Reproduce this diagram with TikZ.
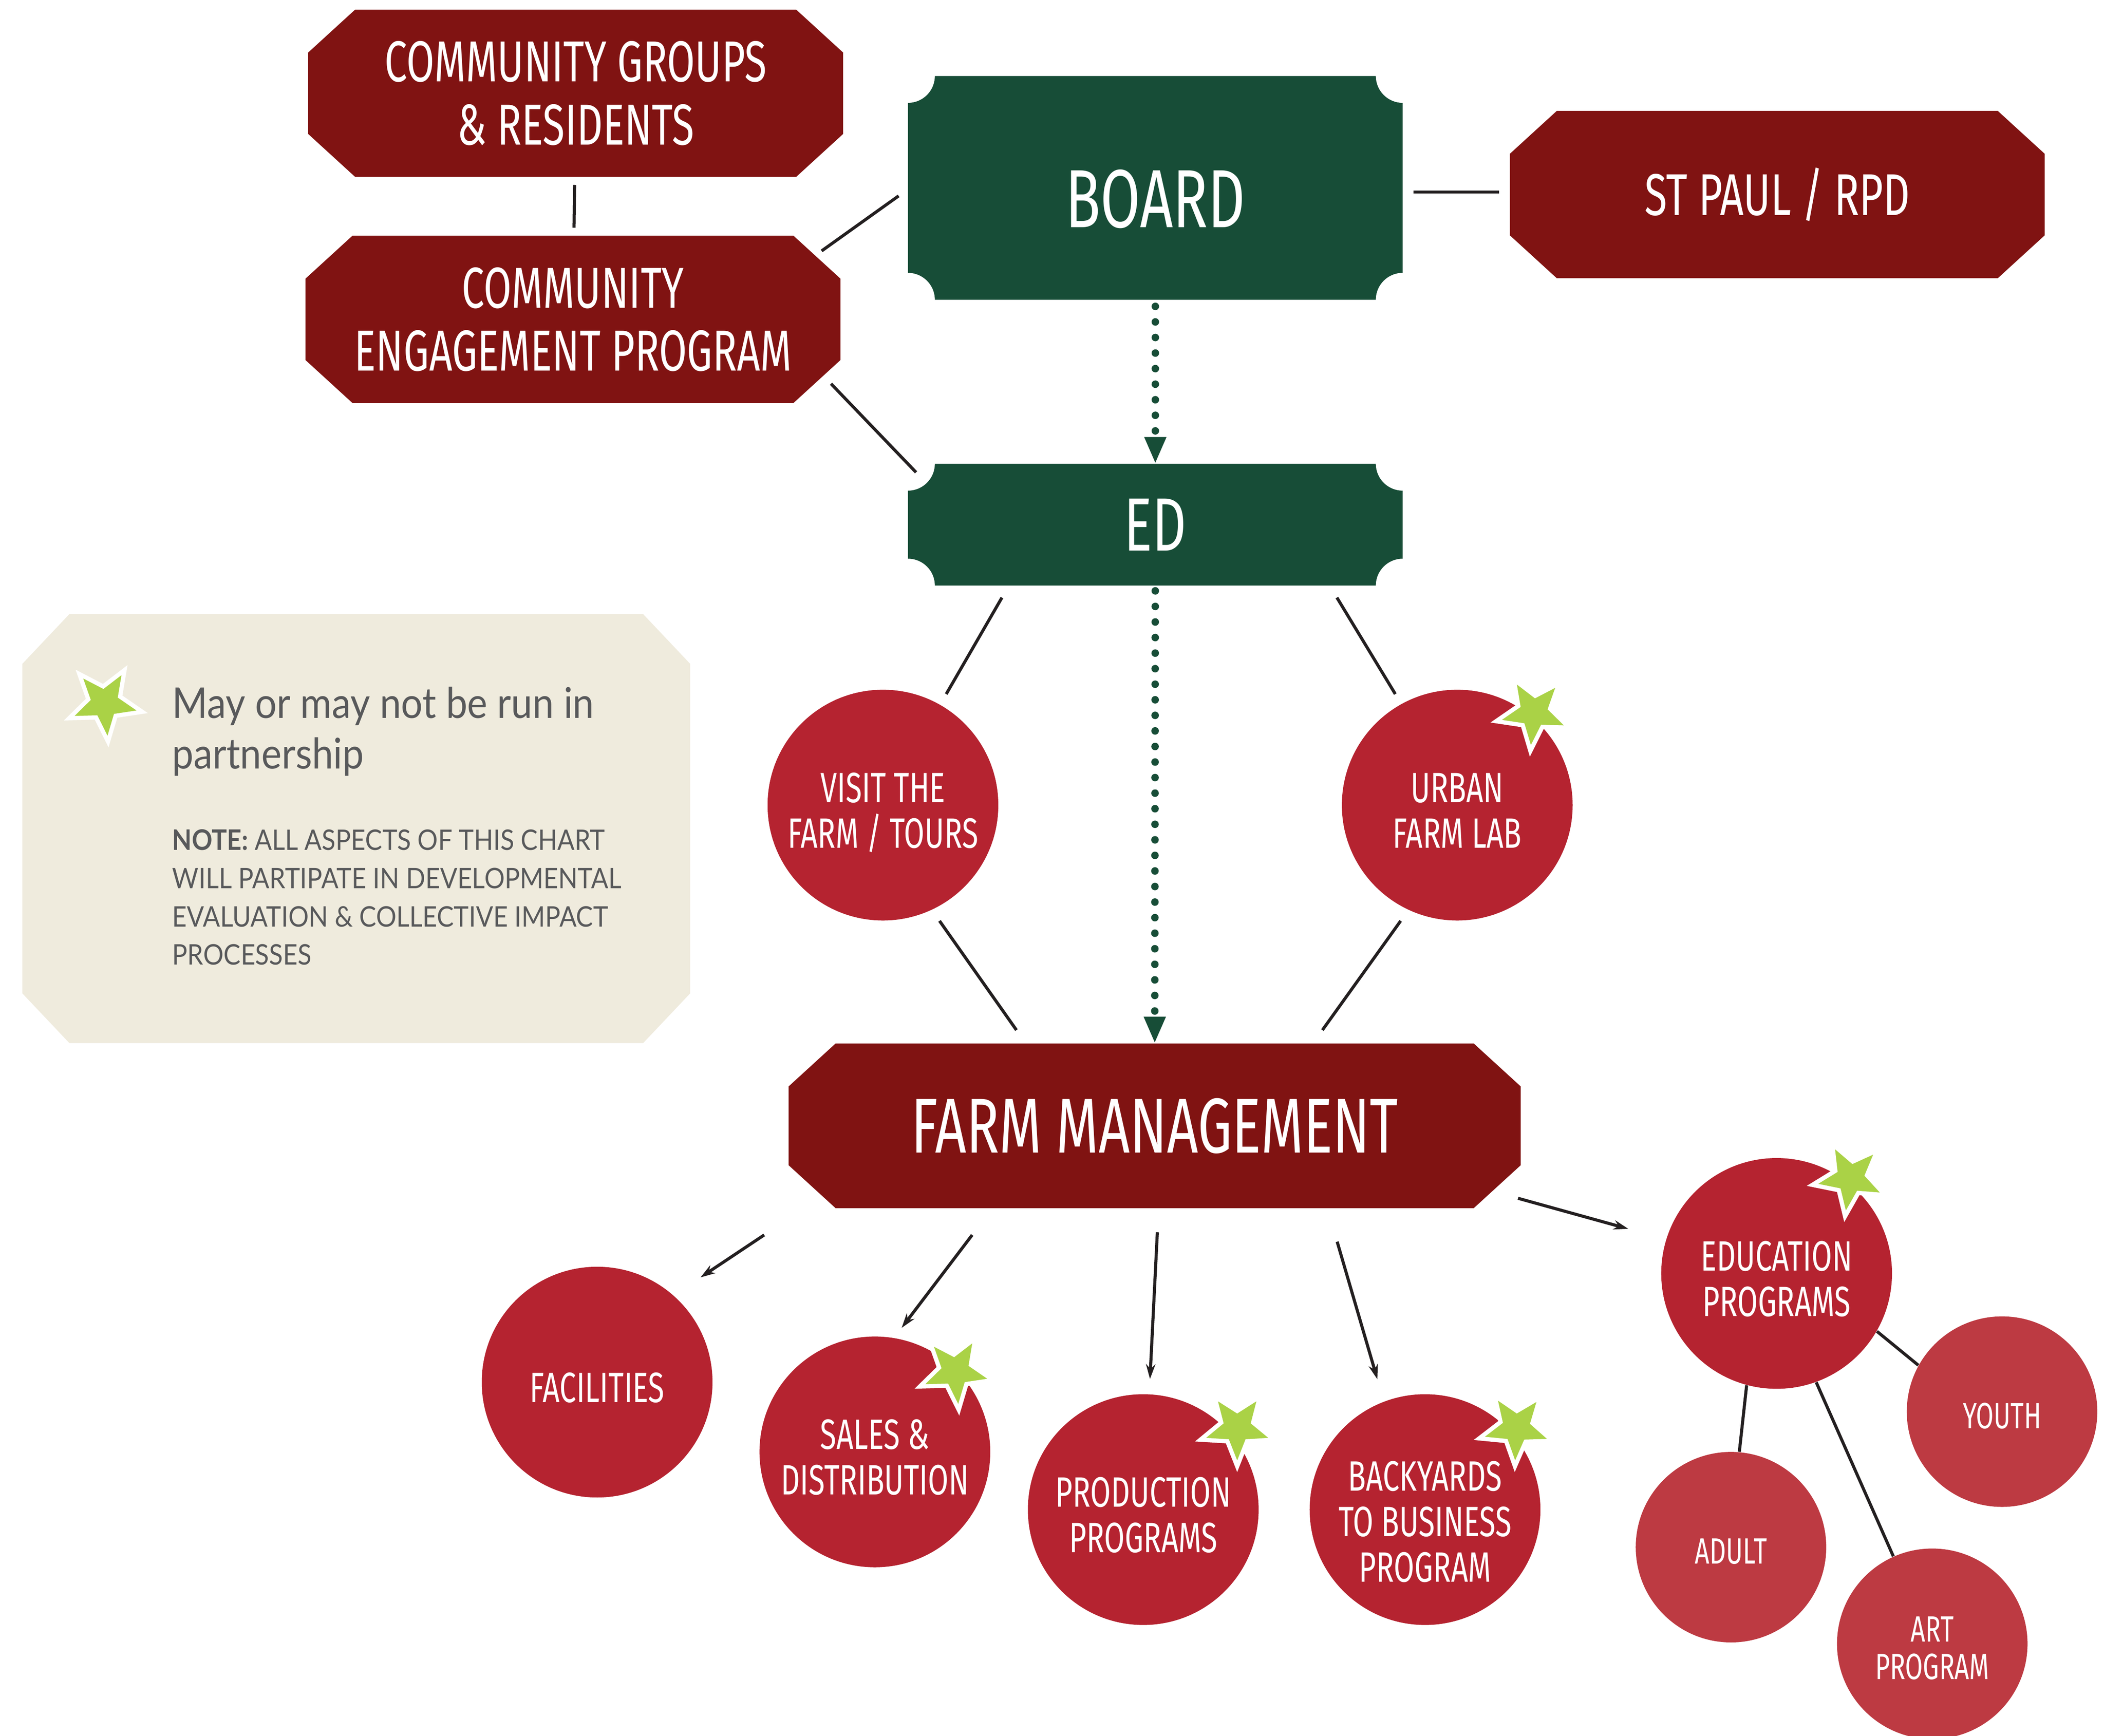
\documentclass[tikz,border=0pt]{standalone}
\usepackage{fontspec}
\usepackage{tikz}
\usetikzlibrary{arrows.meta, positioning, shapes.geometric, backgrounds}
\newfontfamily\hfont[FakeStretch=0.70]{Fira Sans}
\newfontfamily\lfont[FakeStretch=0.9]{Lato}
\definecolor{octred}{RGB}{128,19,18}
\definecolor{circred}{RGB}{181,35,48}
\definecolor{subred}{RGB}{189,58,66}
\definecolor{boardgreen}{RGB}{23,77,55}
\definecolor{legbg}{RGB}{239,235,221}
\definecolor{stargreen}{RGB}{170,210,70}
\definecolor{linegray}{RGB}{35,31,32}
\definecolor{textgray}{RGB}{88,89,91}

\begin{document}
\begin{tikzpicture}[x=0.02cm, y=-0.02cm,
  octa/.style={rectangle, minimum width=7.96cm, minimum height=2.48cm, text=white, align=center, font=\hfont\fontsize{24.5}{26.7}\selectfont},
  notch/.style={rectangle, minimum width=7.36cm, text=white, font=\hfont\fontsize{35}{40}\selectfont},
  circ/.style={circle, fill=circred, minimum size=3.44cm, inner sep=0pt, text height=1.28cm, text depth=0pt, text=white, align=center, font=\hfont\fontsize{18}{19.3}\selectfont},
  subcirc/.style={circle, fill=subred, minimum size=2.84cm, inner sep=0pt, text height=0.5cm, text depth=0pt, text=white, align=center, font=\hfont\fontsize{15.5}{15.9}\selectfont},
  partner/.style={star, star points=5, star point ratio=2.3, minimum size=1.15cm, inner sep=0pt, fill=stargreen, draw=white, line width=1.8pt},
  link/.style={draw=linegray, line width=1.3pt},
  feed/.style={link, -{Stealth[length=0.22cm, width=0.14cm]}},
  dotlink/.style={draw=boardgreen, line width=3.2pt, line cap=round, dash pattern=on 0pt off 6.6pt, -{Triangle[length=0.4cm, width=0.3cm]}}]
  \useasboundingbox (0,0) rectangle (1568,1293.7);

  % top boxes
  \node[octa] (cgr) at (429,69.5) {COMMUNITY GROUPS\\\& RESIDENTS};
  \node[octa] (cep) at (427,238) {COMMUNITY\\ENGAGEMENT PROGRAM};
  \node[octa, font=\hfont\fontsize{25}{30}\selectfont] (stpaul) at (1324.5,145) {ST PAUL / RPD};
  \node[notch, minimum height=3.32cm, text height=1.18cm, text depth=0pt] (board) at (861,140) {BOARD};
  \node[notch, minimum height=1.8cm, font=\hfont\fontsize{32}{36}\selectfont] (ed) at (861,391) {ED};
  \node[octa, minimum width=10.9cm, minimum height=2.44cm, font=\hfont\fontsize{33}{36}\selectfont] (farm) at (860.5,839) {FARM MANAGEMENT};

  % legend
  \node[minimum width=9.94cm, minimum height=6.38cm] (legend) at (265.5,617.5) {};
  \node[partner, shape border rotate=185] (legstar) at (78,524) {};
  \node[anchor=base west, align=left, inner sep=0pt, text=textgray, font=\lfont\fontsize{18}{21.5}\selectfont] (legtitle) at (128,573) {May or may not be run in\\partnership};
  \node[anchor=base west, align=left, inner sep=0pt, text=textgray, font=\lfont\fontsize{12}{16.2}\selectfont] (legnote) at (128,719) {\textbf{NOTE:} ALL ASPECTS OF THIS CHART\\WILL PARTIPATE IN DEVELOPMENTAL\\EVALUATION \& COLLECTIVE IMPACT\\PROCESSES};

  % programs
  \node[circ] (visit) at (658,600) {VISIT THE\\FARM / TOURS};
  \node[circ] (urban) at (1086,600) {URBAN\\FARM LAB};
  \node[circ, text height=0.6cm] (facil) at (445,1030) {FACILITIES};
  \node[circ] (sales) at (652,1082) {SALES \&\\DISTRIBUTION};
  \node[circ] (prod) at (852,1125) {PRODUCTION\\PROGRAMS};
  \node[circ, text height=2.16cm] (backyard) at (1062,1125) {BACKYARDS\\TO BUSINESS\\PROGRAM};
  \node[circ] (edu) at (1324,949) {EDUCATION\\PROGRAMS};
  \node[subcirc] (youth) at (1492,1052) {YOUTH};
  \node[subcirc] (adult) at (1290,1153) {ADULT};
  \node[subcirc, text height=1.06cm] (art) at (1440,1225) {ART\\PROGRAM};

  \foreach \x/\y/\r [count=\i] in {1143/531/175, 712/1022/185, 922/1064/180, 1130/1064/178, 1379/878/172}
    \node[partner, shape border rotate=\r] (star\i) at (\x,\y) {};

  \begin{scope}[on background layer]
    \foreach \n in {cgr,cep,stpaul,farm}
      \fill[octred] ([xshift=0.7cm]\n.north west) -- ([xshift=-0.7cm]\n.north east) -- ([yshift=-0.64cm]\n.north east)
        -- ([yshift=0.64cm]\n.south east) -- ([xshift=-0.7cm]\n.south east) -- ([xshift=0.7cm]\n.south west)
        -- ([yshift=0.64cm]\n.south west) -- ([yshift=-0.64cm]\n.north west) -- cycle;
    \fill[legbg] ([xshift=0.7cm]legend.north west) -- ([xshift=-0.7cm]legend.north east) -- ([yshift=-0.74cm]legend.north east)
      -- ([yshift=0.74cm]legend.south east) -- ([xshift=-0.7cm]legend.south east) -- ([xshift=0.7cm]legend.south west)
      -- ([yshift=0.74cm]legend.south west) -- ([yshift=-0.74cm]legend.north west) -- cycle;
    \foreach \n in {board,ed}
      \fill[boardgreen] ([xshift=0.4cm]\n.north west) -- ([xshift=-0.4cm]\n.north east) arc[start angle=180, end angle=270, radius=0.4cm]
        -- ([yshift=0.4cm]\n.south east) arc[start angle=90, end angle=180, radius=0.4cm]
        -- ([xshift=0.4cm]\n.south west) arc[start angle=0, end angle=90, radius=0.4cm]
        -- ([yshift=-0.4cm]\n.north west) arc[start angle=270, end angle=360, radius=0.4cm] -- cycle;
  \end{scope}

  % connectors
  \draw[link, shorten <=0.12cm, shorten >=0.12cm] (cgr) -- (cep);
  \draw[link] ([shift={(-14,-51)}]cep.east) -- ([shift={(-7,6)}]board.west);
  \draw[link] ([shift={(-7,48)}]cep.east) -- ([shift={(6,-39)}]ed.west);
  \draw[link] ([shift={(8,3)}]board.east) -- ([shift={(-8,-2)}]stpaul.west);
  \draw[dotlink, shorten <=0.1cm] (board) -- (ed);
  \draw[dotlink, shorten <=0.08cm] (ed) -- (farm);
  \draw[link] ([shift={(70,9)}]ed.south west) -- ([shift={(4,-8)}]visit.60);
  \draw[link] ([shift={(-49,9)}]ed.south east) -- ([shift={(-3,-8)}]urban.120);
  \draw[link] ([shift={(-1,11.5)}]visit.-60) -- ([shift={(-103,-10)}]farm.north);
  \draw[link] ([shift={(1,11.5)}]urban.-120) -- ([shift={(125,-10)}]farm.north);
  \draw[feed] ([shift={(-291,20)}]farm.south) -- ([shift={(16,-17)}]facil.45);
  \draw[feed] ([shift={(-136,20)}]farm.south) -- ([shift={(2,-8)}]sales.78);
  \draw[feed] ([shift={(2,18)}]farm.south) -- ([shift={(5,-11)}]prod.north);
  \draw[feed] ([shift={(136,25)}]farm.south) -- ([shift={(-6,-16)}]backyard.110);
  \draw[feed] ([shift={(-2,54)}]farm.east) -- ([shift={(-28,-8)}]edu.163);
  \draw[link] (edu.-30) -- (youth.151);
  \draw[link] (edu.-105) -- (adult.85);
  \draw[link] (edu.-70) -- (art.114);
\end{tikzpicture}
\end{document}
